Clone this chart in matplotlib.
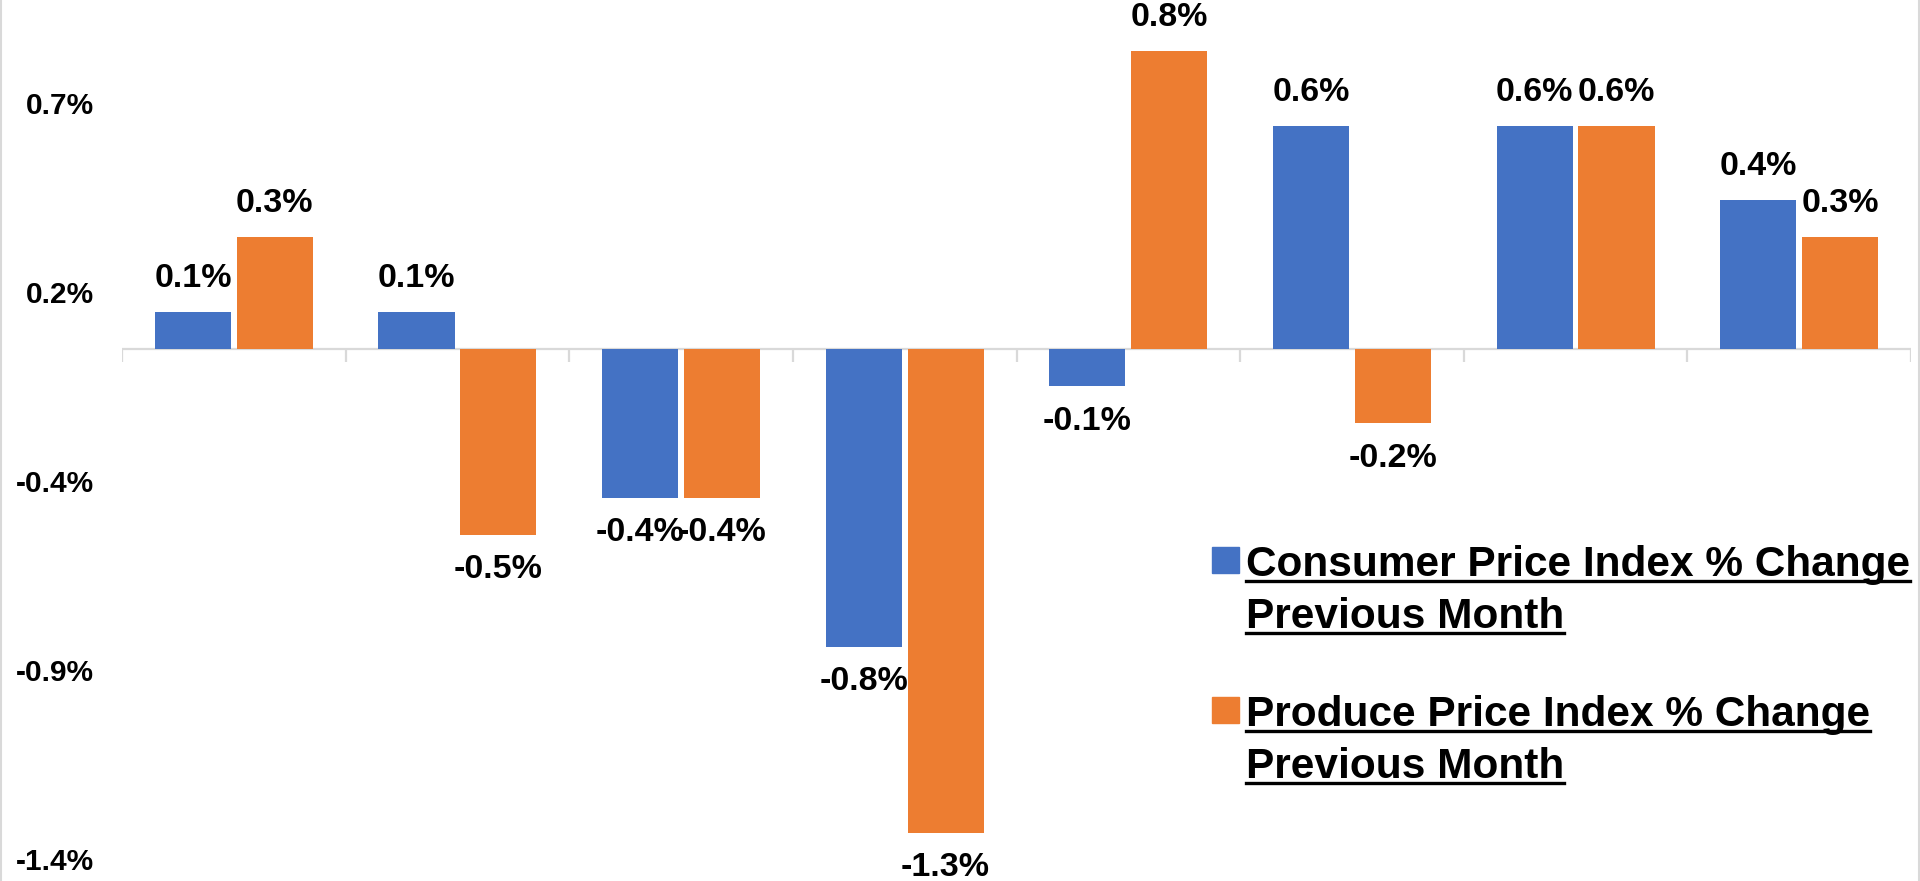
import matplotlib
matplotlib.use("Agg")
import matplotlib.pyplot as plt
from matplotlib.patches import Rectangle
from matplotlib.lines import Line2D
import numpy as np

plt.rcParams['font.family'] = ['Liberation Sans', 'DejaVu Sans']
plt.rcParams['font.weight'] = 'bold'

# Monthly % change values
months = ["M1", "M2", "M3", "M4", "M5", "M6", "M7", "M8"]
cpi_change = [0.1, 0.1, -0.4, -0.8, -0.1, 0.6, 0.6, 0.4]
ppi_change = [0.3, -0.5, -0.4, -1.3, 0.8, -0.2, 0.6, 0.3]
series_names = ["Consumer Price Index % Change\nPrevious Month",
                "Produce Price Index % Change\nPrevious Month"]
y_ticks = [-1.37, -0.862, -0.354, 0.154, 0.662]

BLUE = "#4472C4"
ORANGE = "#ED7D31"
GRID = "#D9D9D9"

W, H = 1920, 881
fig = plt.figure(figsize=(W / 100, H / 100), dpi=100)
fig.patch.set_facecolor("white")

ax_left, ax_right = 122, 1911
ax = fig.add_axes([ax_left / W, 0, (ax_right - ax_left) / W, 1])
ax.set_xlim(0, len(months))
ax.set_ylim(-1.430, 0.938)

x = np.arange(len(months)) + 0.5
bw, off = 0.34, 0.183
bars_cpi = ax.bar(x - off, cpi_change, width=bw, color=BLUE, zorder=2)
bars_ppi = ax.bar(x + off, ppi_change, width=bw, color=ORANGE, zorder=2)

for bars, vals in ((bars_cpi, cpi_change), (bars_ppi, ppi_change)):
    for b, v in zip(bars, vals):
        cx = b.get_x() + b.get_width() / 2
        ax.annotate(f"{v:.1f}%", xy=(cx, v), xytext=(0, 13 if v >= 0 else -14),
                    textcoords="offset points", ha="center",
                    va="bottom" if v >= 0 else "top",
                    fontsize=24.5, fontweight="bold", color="black", zorder=3)

# Horizontal zero axis with downward category-boundary ticks
ax.axhline(0, color=GRID, lw=1.6, zorder=1)
for b in range(len(months) + 1):
    ax.plot([b, b], [0, -13 / 372], color=GRID, lw=1.6, zorder=1,
            solid_capstyle="butt")

for s in ax.spines.values():
    s.set_visible(False)
ax.set_xticks([])
ax.set_yticks(y_ticks)
ax.set_yticklabels([f"{t:.1f}%" for t in y_ticks], fontsize=21.5, fontweight="bold")
ax.tick_params(axis="y", length=0, pad=20)
ax.patch.set_alpha(0)

# Chart frame edges
fig.add_artist(Line2D([0.5 / W, 0.5 / W], [0, 1], color=GRID, lw=1.5))
fig.add_artist(Line2D([1 - 1.5 / W, 1 - 1.5 / W], [0, 1], color=GRID, lw=1.5))

# Legend with underlined labels
legend_rows = [(BLUE, series_names[0], 547), (ORANGE, series_names[1], 697)]
text_x = 1246
line_gap = 52
texts = []
for color, label, top in legend_rows:
    fig.add_artist(Rectangle((1212 / W, 1 - (top + 26) / H), 27 / W, 26 / H,
                             transform=fig.transFigure, color=color))
    for i, line in enumerate(label.split("\n")):
        baseline = top + 29 + i * line_gap
        t = fig.text(text_x / W, 1 - baseline / H, line, fontsize=30.5,
                     fontweight="bold", ha="left", va="baseline", color="black")
        texts.append((t, baseline))

fig.canvas.draw()
renderer = fig.canvas.get_renderer()
for t, baseline in texts:
    bb = t.get_window_extent(renderer)
    uy = 1 - (baseline + 5) / H
    fig.add_artist(Line2D([bb.x0 / W, bb.x1 / W], [uy, uy], color="black", lw=2.4))

fig.savefig("out.png", dpi=100, facecolor="white")
